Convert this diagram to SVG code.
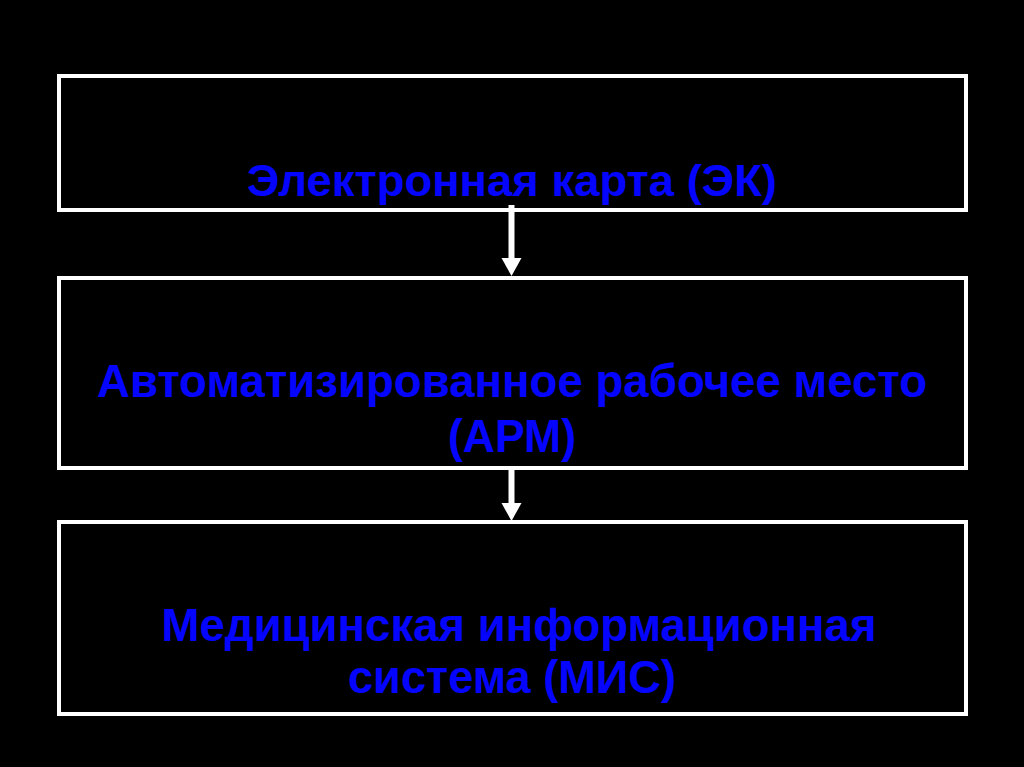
<svg xmlns="http://www.w3.org/2000/svg" width="1024" height="767" viewBox="0 0 1024 767">
<style>
.box{fill:#000;stroke:#fff;stroke-width:4}
.t{font-family:"Liberation Sans",Arial,sans-serif;font-weight:bold;fill:#0505ff;text-anchor:middle}
.n{font-family:"Liberation Sans Narrow","Arial Narrow","Liberation Sans",sans-serif}
.ah{fill:#fff}
</style>
<rect width="1024" height="767" fill="#000"/>
<g id="node1">
<rect class="box" x="59" y="76" width="907" height="134"/>
<text class="t" x="512" y="196" font-size="45" textLength="530" lengthAdjust="spacingAndGlyphs">Электронная карта (ЭК)</text>
</g>
<g id="node2">
<rect class="box" x="59" y="278" width="907" height="190"/>
<text class="t" x="512" y="397" font-size="46" textLength="830" lengthAdjust="spacingAndGlyphs">Автоматизированное рабочее место</text>
<text class="t" x="512" y="452" font-size="46" textLength="128" lengthAdjust="spacingAndGlyphs">(АРМ)</text>
</g>
<g id="node3">
<rect class="box" x="59" y="522" width="907" height="192"/>
<text class="t n" x="519" y="641" font-size="46" textLength="715" lengthAdjust="spacingAndGlyphs">Медицинская информационная</text>
<text class="t n" x="512" y="693" font-size="46" textLength="328" lengthAdjust="spacingAndGlyphs">система (МИС)</text>
</g>
<g id="connectors">
<line x1="511.5" y1="205" x2="511.5" y2="260" stroke="#fff" stroke-width="6"/>
<polygon class="ah" points="501.5,258 521.5,258 511.5,276"/>
<line x1="511.5" y1="468" x2="511.5" y2="505" stroke="#fff" stroke-width="6"/>
<polygon class="ah" points="501.5,503 521.5,503 511.5,521"/>
</g>
</svg>
